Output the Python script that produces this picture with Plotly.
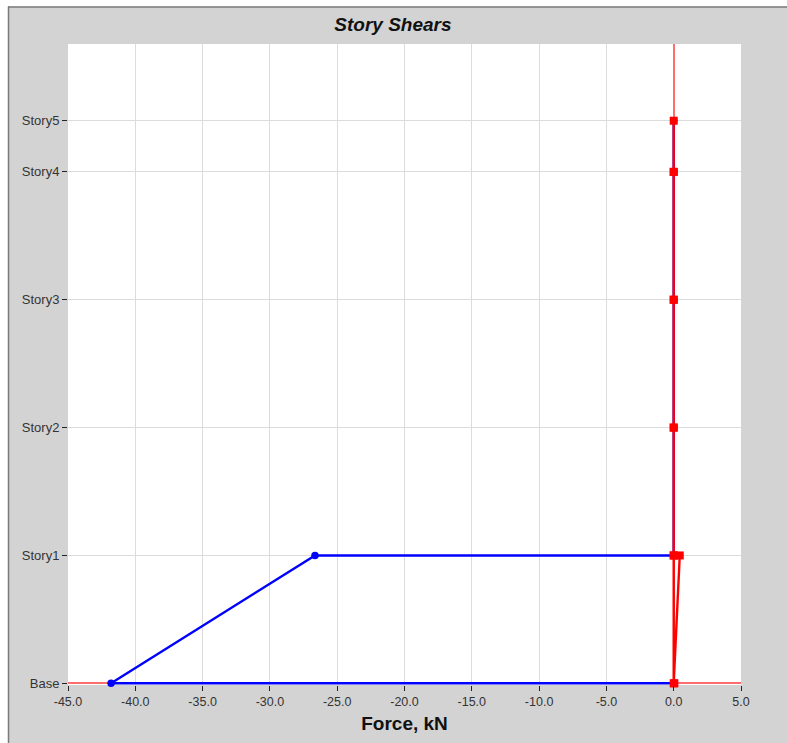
import plotly.graph_objects as go

# Story levels and elevations (m)
stories = ["Base", "Story1", "Story2", "Story3", "Story4", "Story5"]
elevations = [0.0, 3.0, 6.0, 9.0, 12.0, 13.2]

# Story shears (kN) at the top and bottom of each story, Story1..Story5
shear_x_top = [-26.65, 0.0, 0.0, 0.0, 0.0]
shear_x_bot = [-41.8, 0.0, 0.0, 0.0, 0.0]
shear_y_top = [0.45, 0.0, 0.0, 0.0, 0.0]
shear_y_bot = [0.05, 0.0, 0.0, 0.0, 0.0]

x_ticks = [-45, -40, -35, -30, -25, -20, -15, -10, -5, 0, 5]


def shear_path(top, bot, close_to_axis=False):
    xs, ys = [], []
    for i in range(len(top) - 1, -1, -1):
        xs += [top[i], bot[i]]
        ys += [elevations[i + 1], elevations[i]]
    xs.append(0.0)
    ys.append(elevations[0])
    if close_to_axis:
        xs.append(0.0)
        ys.append(elevations[1])
    return xs, ys


bx, by = shear_path(shear_x_top, shear_x_bot)
rx, ry = shear_path(shear_y_top, shear_y_bot, close_to_axis=True)

fig = go.Figure()
fig.add_trace(go.Scatter(
    x=bx, y=by, mode="lines+markers", cliponaxis=False,
    line=dict(color="#0000ff", width=2.4),
    marker=dict(color="#0000ff", size=7.5, symbol="circle"),
    showlegend=False, hoverinfo="skip",
))
fig.add_trace(go.Scatter(
    x=rx, y=ry, mode="lines+markers", cliponaxis=False,
    line=dict(color="#ff0000", width=2.4),
    marker=dict(color="#ff0000", size=8, symbol="square"),
    showlegend=False, hoverinfo="skip",
))

L, R, T, B = 68, 46, 44, 58
W, H = 787, 743
pw, ph = W - L - R, H - T - B


def px(xp):
    return (xp - L) / pw


def py(yp):
    return (H - B - yp) / ph


frame = "#7a7a7a"
shapes = [
    dict(type="rect", xref="paper", yref="paper", x0=px(0), x1=px(8), y0=py(H), y1=py(0),
         fillcolor="white", line_width=0, layer="below"),
    dict(type="rect", xref="paper", yref="paper", x0=px(0), x1=px(W), y0=py(6.5), y1=py(0),
         fillcolor="white", line_width=0, layer="below"),
    dict(type="line", xref="paper", yref="paper", x0=px(8.5), x1=px(8.5), y0=py(H), y1=py(6.5),
         line=dict(color=frame, width=1.5)),
    dict(type="line", xref="paper", yref="paper", x0=px(8), x1=px(W), y0=py(7), y1=py(7),
         line=dict(color=frame, width=1.5)),
]

font = "Liberation Sans, Arial, sans-serif"

fig.update_layout(
    width=W, height=H,
    margin=dict(l=L, r=R, t=T, b=B, pad=0),
    paper_bgcolor="#d3d3d3",
    plot_bgcolor="white",
    shapes=shapes,
    title=dict(text="<b><i>Story Shears</i></b>", x=px(404), xanchor="center",
               y=1 - 24 / H, yanchor="middle",
               font=dict(family=font, size=19, color="#111111")),
    xaxis=dict(
        range=[-45, 5], tickmode="array", tickvals=x_ticks,
        ticktext=[f"{v:.1f}" for v in x_ticks],
        showgrid=True, gridcolor="#dcdcdc", gridwidth=1,
        zeroline=True, zerolinecolor="rgba(255,60,60,0.75)", zerolinewidth=1.5,
        ticks="outside", ticklen=5, tickcolor="#222222", tickwidth=1,
        tickfont=dict(family=font, size=12.5, color="#333333"),
        showline=False,
        title=dict(text="<b>Force, kN</b>", standoff=8,
                   font=dict(family=font, size=19, color="#111111")),
    ),
    yaxis=dict(
        range=[-0.04, 15], tickmode="array", tickvals=elevations, ticktext=stories,
        showgrid=True, gridcolor="#dcdcdc", gridwidth=1,
        zeroline=True, zerolinecolor="rgba(255,60,60,0.75)", zerolinewidth=1.5,
        ticks="outside", ticklen=5, tickcolor="#222222", tickwidth=1,
        tickfont=dict(family=font, size=13, color="#333333"),
        showline=False,
    ),
)

fig.write_html("out.html")
